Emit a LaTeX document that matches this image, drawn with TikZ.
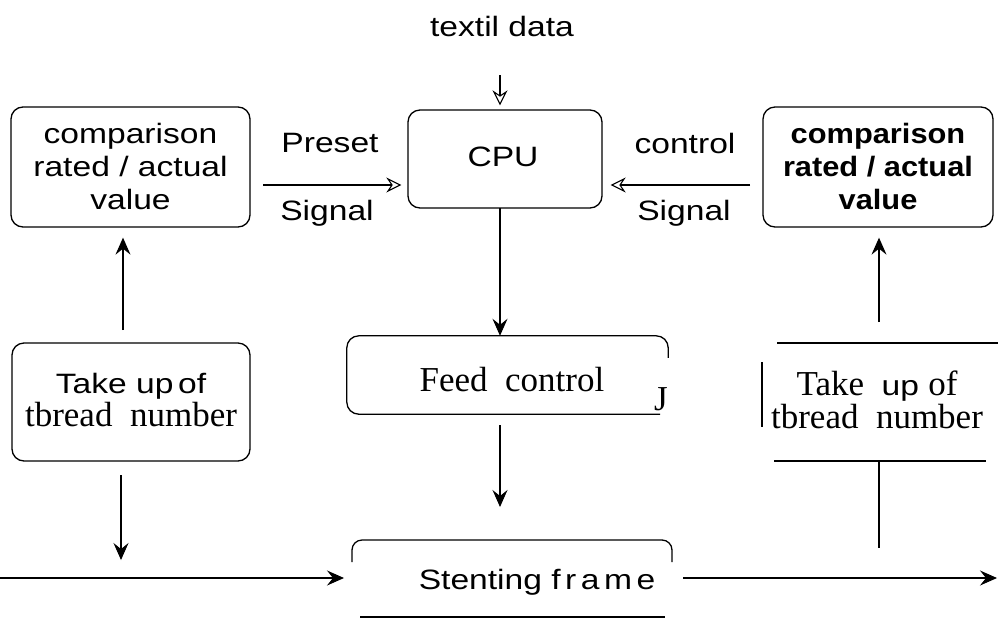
\documentclass[tikz,border=0pt]{standalone}
\usepackage{fontspec}
\usetikzlibrary{arrows.meta}
\newfontfamily\scanSans[FakeStretch=1.2]{Liberation Sans}
\newfontfamily\scanSansB[FakeStretch=1.1]{Liberation Sans Bold}
\newfontfamily\scanSerif{Liberation Serif}
\newcommand\sansfont{\scanSans\fontsize{28}{33}\selectfont}
\newcommand\seriffont{\scanSerif\fontsize{35}{35}\selectfont}
\begin{document}
\begin{tikzpicture}[x=1pt,y=-1pt,
  sans/.style={font=\sansfont},
  sansb/.style={font=\scanSansB\fontsize{28}{33}\selectfont},
  serif/.style={font=\seriffont},
  box/.style={draw, rounded corners=12pt, line width=1.3pt, inner sep=0pt},
  ghost/.style={inner sep=0pt},
  txt/.style={inner sep=0pt, align=center},
  arr/.style={-{Stealth[length=17pt,width=15pt,inset=6pt]}, line width=1.1pt},
  oarr/.style={-{Stealth[open,length=15pt,width=15pt,inset=5pt]}, line width=1.1pt},
  edge/.style={line width=1.3pt}]
\useasboundingbox (0,0) rectangle (998,619);

% boxes
\node[box, minimum width=194pt, minimum height=98pt] (cpu) at (505,159) {};
\node[txt, sans] (cput) at (503,157) {CPU};

\node[box, minimum width=239pt, minimum height=120pt] (lc) at (130.5,167) {};
\node[txt, sans] (lct) at (130.5,166) {comparison\\rated / actual\\value};

\node[box, minimum width=230pt, minimum height=120pt] (rc) at (878,167) {};
\node[txt, sansb] (rct) at (878,166) {comparison\\rated / actual\\value};

\node[box, minimum width=238pt, minimum height=118pt] (lt) at (131,402) {};
\node[txt] (ltt) at (131,400) {{\sansfont Take up\,of}\\[2pt]{\seriffont tbread\ \ number}};

% feed control (right side partly open)
\node[ghost, minimum width=321pt, minimum height=78pt] (fc) at (507.5,375) {};
\draw[edge, rounded corners=12pt] ([yshift=-22pt]fc.north east) -- (fc.north east) -- (fc.north west) -- (fc.south west) -- ([xshift=-8pt]fc.south east);
\node[txt, serif] (fct) at (512,380) {Feed\ \ control};
\node[txt, serif] (fcj) at (661,399) {J};

% right take-up (partial outline)
\coordinate (rtTL) at (777,343);
\coordinate (rtTR) at (998,343);
\coordinate (rtBL) at (774,461);
\coordinate (rtBR) at (986,461);
\coordinate (rtbarT) at (762,362);
\coordinate (rtbarB) at (762,427);
\draw[edge] (rtTL) -- (rtTR);
\draw[edge] (rtBL) -- (rtBR);
\draw[line width=1.6pt] (rtbarT) -- (rtbarB);
\node[txt] (rtt) at (877,400) {{\seriffont Take\ \ }{\sansfont up\ }{\seriffont of}\\[2pt]{\seriffont tbread\ \ number}};
\coordinate (rtbot) at (879,461);
\coordinate (rtstem) at (879,548);
\draw[edge] (rtbot) -- (rtstem);

% stenting frame (partial outline)
\coordinate (sfTL) at (352,562);
\coordinate (sfTR) at (672,562);
\coordinate (sfBL) at (360,617);
\coordinate (sfBR) at (665,617);
\draw[edge, rounded corners=10pt] (sfTL) -- (352,540) -- (672,540) -- (sfTR);
\draw[edge] (sfBL) -- (sfBR);
\node[txt, sans] (sft) at (537,582) {Stenting {\addfontfeatures{LetterSpace=16}frame}};

% labels
\node[txt, sans] (td) at (502,26) {textil data};
\node[txt, sans] (pre) at (330,143) {Preset};
\node[txt, sans] (sgl) at (327,213) {Signal};
\node[txt, sans] (ctl) at (685,143) {control};
\node[txt, sans] (sgr) at (684,213) {Signal};

% connectors
\coordinate (tdA) at (500,75);
\draw[oarr] (tdA) -- ([yshift=4pt]tdA |- cpu.north);
\coordinate (psA) at (263,185);
\draw[oarr] (psA) -- ([xshift=-6pt]cpu.west |- psA);
\coordinate (csA) at (750,185);
\draw[oarr] (csA) -- ([xshift=8pt]cpu.east |- csA);
\coordinate (cpuB) at (500,208);
\draw[arr] (cpuB) -- (cpuB |- fc.north);
\coordinate (fcB) at (500,425);
\coordinate (fcE) at (500,507);
\draw[arr] (fcB) -- (fcE);
\coordinate (luA) at (123,330);
\draw[arr] (luA) -- ([yshift=-10pt]luA |- lc.south);
\coordinate (ldA) at (121,475);
\coordinate (ldE) at (121,560);
\draw[arr] (ldA) -- (ldE);
\coordinate (ruA) at (879,322);
\draw[arr] (ruA) -- ([yshift=-10pt]ruA |- rc.south);
\coordinate (inA) at (0,578);
\coordinate (inE) at (344,578);
\draw[arr] (inA) -- (inE);
\coordinate (outA) at (683,578);
\coordinate (outE) at (997,578);
\draw[arr] (outA) -- (outE);
\end{tikzpicture}
\end{document}
